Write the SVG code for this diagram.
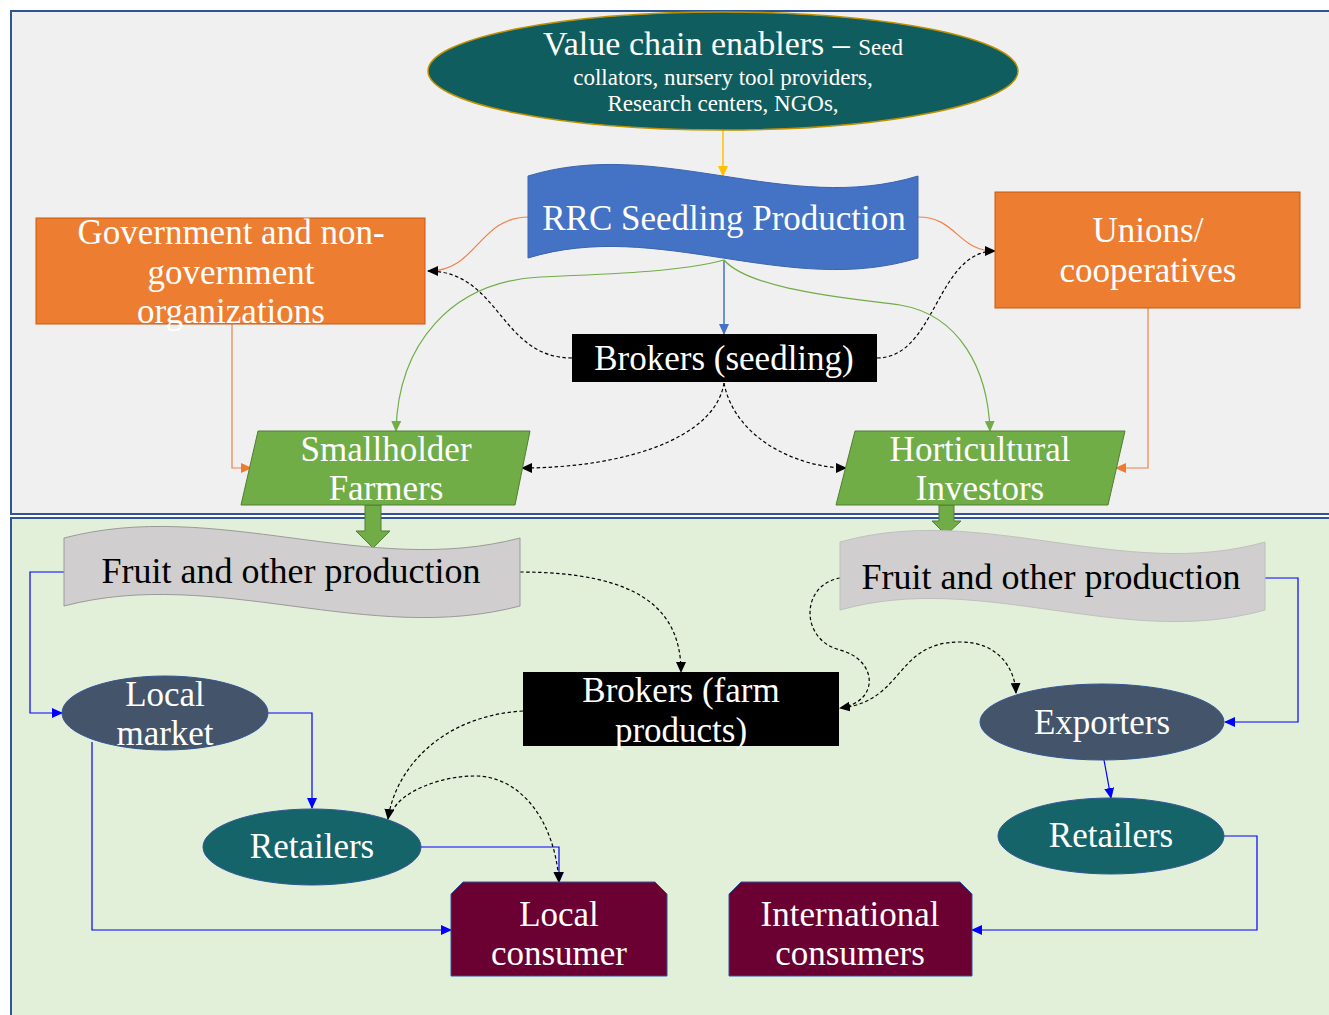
<svg xmlns="http://www.w3.org/2000/svg" width="1329" height="1015" viewBox="0 0 1329 1015">
  <style>
    .t { font-family: "Liberation Serif", "Times New Roman", serif; fill: #ffffff; text-anchor: middle; font-size: 35px; }
    .dark { fill: #000000; font-size: 36px; }
    .small { font-size: 23px; }
    .big { font-size: 34px; }
    .dash { fill: none; stroke: #000000; stroke-width: 1.2; stroke-dasharray: 3.5 2.5; marker-end: url(#ahBlack); }
    .blue { fill: none; stroke: #0000ff; stroke-width: 1.2; marker-end: url(#ahBlue); }
    .orange { fill: none; stroke: #f0824a; stroke-width: 1.2; }
    .green { fill: none; stroke: #70ad47; stroke-width: 1.2; marker-end: url(#ahGreen); }
  </style>
  <defs>
    <marker id="ahBlack" markerUnits="userSpaceOnUse" markerWidth="11" markerHeight="10" refX="10" refY="5" orient="auto">
      <path d="M0,0 L11,5 L0,10 z" fill="#000000"/>
    </marker>
    <marker id="ahBlue" markerUnits="userSpaceOnUse" markerWidth="11" markerHeight="10" refX="10" refY="5" orient="auto">
      <path d="M0,0 L11,5 L0,10 z" fill="#0000ff"/>
    </marker>
    <marker id="ahGreen" markerUnits="userSpaceOnUse" markerWidth="11" markerHeight="10" refX="10" refY="5" orient="auto">
      <path d="M0,0 L11,5 L0,10 z" fill="#70ad47"/>
    </marker>
    <marker id="ahOrange" markerUnits="userSpaceOnUse" markerWidth="11" markerHeight="10" refX="10" refY="5" orient="auto">
      <path d="M0,0 L11,5 L0,10 z" fill="#f07a30"/>
    </marker>
    <marker id="ahGold" markerUnits="userSpaceOnUse" markerWidth="11" markerHeight="10" refX="10" refY="5" orient="auto">
      <path d="M0,0 L11,5 L0,10 z" fill="#ffc000"/>
    </marker>
    <marker id="ahSteel" markerUnits="userSpaceOnUse" markerWidth="11" markerHeight="10" refX="10" refY="5" orient="auto">
      <path d="M0,0 L11,5 L0,10 z" fill="#4472c4"/>
    </marker>
  </defs>

  <!-- page and the two panels -->
  <rect x="0" y="0" width="1329" height="1015" fill="#ffffff"/>
  <g id="panels">
    <rect x="11" y="11" width="1330" height="503" fill="#f0f0f0" stroke="#2f5597" stroke-width="2"/>
    <rect x="11" y="518" width="1330" height="510" fill="#e2efd9" stroke="#2f5597" stroke-width="2"/>
  </g>

  <!-- connectors -->
  <g id="connectors">
    <line x1="723" y1="130" x2="723" y2="176" fill="none" stroke="#ffc000" stroke-width="1.5" marker-end="url(#ahGold)"/>
    <line x1="724" y1="260" x2="724" y2="334" fill="none" stroke="#4472c4" stroke-width="1.5" marker-end="url(#ahSteel)"/>
    <!-- RRC to the two support organisations -->
    <path class="orange" d="M529,217 C478,217 478,271 428,271"/>
    <path class="orange" d="M918,217 C957,217 957,251 995,251"/>
    <path class="dash" d="M572,358 C500,358 500,271 428,271"/>
    <path class="dash" d="M877,358 C936,358 936,251 995,251"/>
    <!-- RRC to growers -->
    <path class="green" d="M724,260 C680,272 610,274 540,277 C450,282 398,345 396,431"/>
    <path class="green" d="M724,260 C750,290 850,298 900,305 C960,315 988,370 990,431"/>
    <!-- seedling brokers to growers -->
    <path class="dash" d="M724,383 C715,440 620,468 522,468"/>
    <path class="dash" d="M724,383 C735,440 800,468 846,468"/>
    <!-- support organisations to growers -->
    <path class="orange" d="M232,324 V468 H251" marker-end="url(#ahOrange)"/>
    <path class="orange" d="M1148,308 V468 H1116" marker-end="url(#ahOrange)"/>
    <!-- grower output -->
    <polygon points="365,505 381,505 381,531 390,531 373,548 356,531 365,531" fill="#70ad47" stroke="#507e32" stroke-width="1"/>
    <polygon points="939,505 954,505 954,521 961,521 946,535 932,521 939,521" fill="#70ad47" stroke="#507e32" stroke-width="1"/>
    <!-- local chain -->
    <path class="blue" d="M64,572 H30 V713 H62"/>
    <path class="dash" d="M520,572 C640,572 681,610 681,672"/>
    <path class="blue" d="M268,713 H312 V808"/>
    <path class="blue" d="M92,742 V930 H451"/>
    <path class="dash" d="M523,711 C440,716 395,770 388,819"/>
    <path class="blue" d="M421,847 H559 V882"/>
    <path class="dash" d="M392,812 C400,792 440,776 475,776 C520,776 555,820 559,882"/>
    <!-- export chain -->
    <path class="dash" d="M840,578 C800,585 800,640 840,650 C878,660 880,702 840,708"/>
    <path class="dash" d="M842,708 C905,700 895,642 960,642 C1000,642 1015,670 1016,693"/>
    <path class="blue" d="M1265,578 H1298 V722 H1225"/>
    <line class="blue" x1="1104" y1="760" x2="1111" y2="798"/>
    <path class="blue" d="M1224,836 H1257 V930 H972"/>
  </g>

  <!-- nodes -->
  <g id="value-chain-enablers">
    <ellipse cx="723" cy="71" rx="295" ry="59" fill="#0f5d5e" stroke="#bf9000" stroke-width="1.5"/>
    <text class="t" x="723" y="55"><tspan class="big">Value chain enablers – </tspan><tspan class="small">Seed</tspan></text>
    <text class="t small" x="723" y="85">collators, nursery tool providers,</text>
    <text class="t small" x="723" y="111">Research centers, NGOs,</text>
  </g>

  <g id="rrc-seedling-production">
    <path d="M528,176 C658,136 788,216 918,176 L918,258 C788,298 658,218 528,258 Z" fill="#4472c4" stroke="#3a64b0" stroke-width="1"/>
    <text class="t" x="724" y="230">RRC Seedling Production</text>
  </g>

  <g id="government-organizations">
    <rect x="36" y="218" width="389" height="106" fill="#ed7d31" stroke="#c55a11" stroke-width="1"/>
    <text class="t" x="231" y="244">Government and non-</text>
    <text class="t" x="231" y="284">government</text>
    <text class="t" x="231" y="323">organizations</text>
  </g>

  <g id="unions-cooperatives">
    <rect x="995" y="192" width="305" height="116" fill="#ed7d31" stroke="#c55a11" stroke-width="1"/>
    <text class="t" x="1148" y="242">Unions/</text>
    <text class="t" x="1148" y="282">cooperatives</text>
  </g>

  <g id="brokers-seedling">
    <rect x="572" y="334" width="305" height="48" fill="#000000"/>
    <text class="t" x="724" y="370">Brokers (seedling)</text>
  </g>

  <g id="smallholder-farmers">
    <polygon points="258,431 530,431 515,505 241,505" fill="#70ad47" stroke="#507e32" stroke-width="1"/>
    <text class="t" x="386" y="461">Smallholder</text>
    <text class="t" x="386" y="500">Farmers</text>
  </g>

  <g id="horticultural-investors">
    <polygon points="855,431 1125,431 1108,505 836,505" fill="#70ad47" stroke="#507e32" stroke-width="1"/>
    <text class="t" x="980" y="461">Horticultural</text>
    <text class="t" x="980" y="500">Investors</text>
  </g>

  <g id="production-smallholder">
    <path d="M64,538 C216,498 368,578 520,538 L520,606 C368,646 216,566 64,606 Z" fill="#d0cece" stroke="#9a9a9a" stroke-width="1"/>
    <text class="t dark" x="291" y="583">Fruit and other production</text>
  </g>

  <g id="production-investors">
    <path d="M840,542 C982,502 1123,582 1265,542 L1265,610 C1123,650 982,570 840,610 Z" fill="#d0cece" stroke="#c0c0c0" stroke-width="1"/>
    <text class="t dark" x="1051" y="589">Fruit and other production</text>
  </g>

  <g id="brokers-farm-products">
    <rect x="523" y="672" width="316" height="74" fill="#000000"/>
    <text class="t" x="681" y="702">Brokers (farm</text>
    <text class="t" x="681" y="742">products)</text>
  </g>

  <g id="local-market">
    <ellipse cx="165" cy="713" rx="103" ry="37" fill="#44546a" stroke="#2f5597" stroke-width="1"/>
    <text class="t" x="165" y="706">Local</text>
    <text class="t" x="165" y="745">market</text>
  </g>

  <g id="exporters">
    <ellipse cx="1102" cy="722" rx="122" ry="38" fill="#44546a" stroke="#2f5597" stroke-width="1"/>
    <text class="t" x="1102" y="734">Exporters</text>
  </g>

  <g id="retailers-local">
    <ellipse cx="312" cy="847" rx="109" ry="38" fill="#15646a" stroke="#2f5597" stroke-width="1"/>
    <text class="t" x="312" y="858">Retailers</text>
  </g>

  <g id="retailers-export">
    <ellipse cx="1111" cy="836" rx="113" ry="38" fill="#15646a" stroke="#2f5597" stroke-width="1"/>
    <text class="t" x="1111" y="847">Retailers</text>
  </g>

  <g id="local-consumer">
    <path d="M463,882 H655 L667,894 V976 H451 V894 Z" fill="#6b0032" stroke="#2f5597" stroke-width="1"/>
    <text class="t" x="559" y="926">Local</text>
    <text class="t" x="559" y="965">consumer</text>
  </g>

  <g id="international-consumers">
    <path d="M741,882 H960 L972,894 V976 H729 V894 Z" fill="#6b0032" stroke="#2f5597" stroke-width="1"/>
    <text class="t" x="850" y="926">International</text>
    <text class="t" x="850" y="965">consumers</text>
  </g>
</svg>
